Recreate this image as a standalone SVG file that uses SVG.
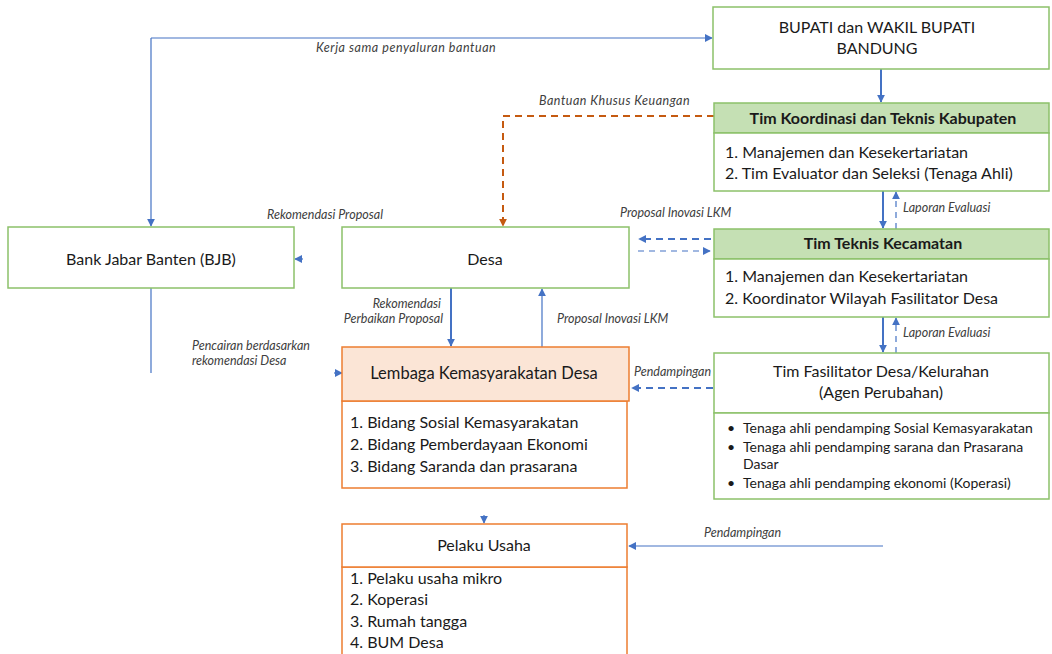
<svg xmlns="http://www.w3.org/2000/svg" width="1052" height="654" viewBox="0 0 1052 654">
<style>
.box{fill:#fff;stroke:#8CC16A;stroke-width:1.5}
.hdr{fill:#C5E0B4;stroke:#8CC16A;stroke-width:1.5}
.obox{fill:#fff;stroke:#ED7D31;stroke-width:1.5}
.ohdr{fill:#FBE5D6;stroke:#ED7D31;stroke-width:1.5}
.t{font-family:Lato,"Liberation Sans",sans-serif;font-size:16px;fill:#1a1a1a}
.tb{font-family:Lato,"Liberation Sans",sans-serif;font-size:16px;font-weight:bold;fill:#1a1a1a}
.ts{font-family:Lato,"Liberation Sans",sans-serif;font-size:14px;fill:#1a1a1a}
.c{text-anchor:middle}
.lbl{font-family:Lato,"Liberation Sans",sans-serif;font-size:12.5px;font-style:italic;fill:#404040}
.ln{fill:none;stroke:#4472C4;stroke-width:1.2}
.lnb{fill:none;stroke:#4472C4;stroke-width:2}
.dsh{fill:none;stroke:#4472C4;stroke-width:2;stroke-dasharray:7 5}
.dsht{fill:none;stroke:#4472C4;stroke-width:1.2;stroke-dasharray:6 5}
.odsh{fill:none;stroke:#C55A11;stroke-width:2;stroke-dasharray:7 5}
</style>
<defs>
<marker id="ab" viewBox="0 0 10 10" refX="9" refY="5" markerWidth="8" markerHeight="8" markerUnits="userSpaceOnUse" orient="auto"><path d="M0,0 L10,5 L0,10 z" fill="#4472C4"/></marker>
<marker id="ao" viewBox="0 0 10 10" refX="9" refY="5" markerWidth="8" markerHeight="8" markerUnits="userSpaceOnUse" orient="auto"><path d="M0,0 L10,5 L0,10 z" fill="#C55A11"/></marker>
</defs>

<g id="connectors">
<path class="ln" d="M151,38 H712" marker-end="url(#ab)"/>
<path class="ln" d="M151,38 V226" marker-end="url(#ab)"/>
<path class="lnb" d="M881,69 V102" marker-end="url(#ab)"/>
<path class="odsh" d="M714,116 H503 V226" marker-end="url(#ao)"/>
<path class="lnb" d="M883,191 V228" marker-end="url(#ab)"/>
<path class="dsht" d="M896,229 V192" marker-end="url(#ab)"/>
<path class="lnb" d="M883,317 V352" marker-end="url(#ab)"/>
<path class="dsht" d="M896,353 V318" marker-end="url(#ab)"/>
<path class="dsh" d="M711,239 H639" marker-end="url(#ab)"/>
<path class="dsht" d="M638,251 H710" marker-end="url(#ab)"/>
<path class="ln" d="M303,259 H295" marker-end="url(#ab)"/>
<path class="ln" d="M151,288 V373"/>
<path class="ln" d="M334,373 H342" marker-end="url(#ab)"/>
<path class="lnb" d="M451,288 V346" marker-end="url(#ab)"/>
<path class="ln" d="M542,347 V289" marker-end="url(#ab)"/>
<path class="dsh" d="M713,388 H632" marker-end="url(#ab)"/>
<path class="ln" d="M484,515 V523" marker-end="url(#ab)"/>
<path class="ln" d="M883,546 H629" marker-end="url(#ab)"/>
<text class="lbl" x="316" y="52" letter-spacing="0.55">Kerja sama penyaluran bantuan</text>
<text class="lbl" x="539" y="105" letter-spacing="0.5">Bantuan Khusus Keuangan</text>
<text class="lbl" x="267" y="219">Rekomendasi Proposal</text>
<text class="lbl" x="620" y="217">Proposal Inovasi LKM</text>
<text class="lbl" x="903" y="212">Laporan Evaluasi</text>
<text class="lbl" x="903" y="337">Laporan Evaluasi</text>
<text class="lbl" x="441" y="308" text-anchor="end">Rekomendasi</text>
<text class="lbl" x="443" y="323" text-anchor="end">Perbaikan Proposal</text>
<text class="lbl" x="557" y="323">Proposal Inovasi LKM</text>
<text class="lbl" x="192" y="350">Pencairan berdasarkan</text>
<text class="lbl" x="192" y="365">rekomendasi Desa</text>
<text class="lbl" x="634" y="376">Pendampingan</text>
<text class="lbl" x="704" y="537">Pendampingan</text>
</g>

<g id="bupati">
<rect class="box" x="713" y="7" width="336" height="62"/>
<text class="t c" x="877" y="33">BUPATI dan WAKIL BUPATI</text>
<text class="t c" x="877" y="54">BANDUNG</text>
</g>

<g id="tim-kabupaten">
<rect class="hdr" x="714" y="103" width="335" height="30"/>
<rect class="box" x="714" y="133" width="335" height="58"/>
<text class="tb c" x="883" y="124">Tim Koordinasi dan Teknis Kabupaten</text>
<text class="t" x="725" y="158">1. Manajemen dan Kesekertariatan</text>
<text class="t" x="725" y="179">2. Tim Evaluator dan Seleksi (Tenaga Ahli)</text>
</g>

<g id="tim-kecamatan">
<rect class="hdr" x="714" y="229" width="335" height="30"/>
<rect class="box" x="714" y="259" width="335" height="58"/>
<text class="tb c" x="883" y="249">Tim Teknis Kecamatan</text>
<text class="t" x="725" y="282">1. Manajemen dan Kesekertariatan</text>
<text class="t" x="725" y="304">2. Koordinator Wilayah Fasilitator Desa</text>
</g>

<g id="tim-fasilitator">
<rect class="box" x="714" y="353" width="335" height="60"/>
<rect class="box" x="714" y="413" width="335" height="86"/>
<text class="t c" x="881" y="377">Tim Fasilitator Desa/Kelurahan</text>
<text class="t c" x="881" y="398">(Agen Perubahan)</text>
<text class="ts" x="727" y="433">•</text>
<text class="ts" x="743" y="433">Tenaga ahli pendamping Sosial Kemasyarakatan</text>
<text class="ts" x="727" y="452">•</text>
<text class="ts" x="743" y="452">Tenaga ahli pendamping sarana dan Prasarana</text>
<text class="ts" x="743" y="469">Dasar</text>
<text class="ts" x="727" y="488">•</text>
<text class="ts" x="743" y="488">Tenaga ahli pendamping ekonomi (Koperasi)</text>
</g>

<g id="bjb">
<rect class="box" x="8" y="227" width="286" height="61"/>
<text class="t c" x="151" y="265">Bank Jabar Banten (BJB)</text>
</g>

<g id="desa">
<rect class="box" x="342" y="227" width="287" height="61"/>
<text class="t c" x="485" y="265">Desa</text>
</g>

<g id="lembaga">
<rect class="obox" x="342" y="401" width="285" height="87"/>
<rect class="ohdr" x="342" y="347" width="287" height="54"/>
<text class="t c" x="484" y="379" style="font-size:16.5px">Lembaga Kemasyarakatan Desa</text>
<text class="t" x="350" y="428">1. Bidang Sosial Kemasyarakatan</text>
<text class="t" x="350" y="450">2. Bidang Pemberdayaan Ekonomi</text>
<text class="t" x="350" y="472">3. Bidang Saranda dan prasarana</text>
</g>

<g id="pelaku-usaha">
<rect class="obox" x="342" y="567" width="285" height="100"/>
<rect class="obox" x="342" y="524" width="285" height="43"/>
<text class="t c" x="484" y="551">Pelaku Usaha</text>
<text class="t" x="350" y="584">1. Pelaku usaha mikro</text>
<text class="t" x="350" y="605">2. Koperasi</text>
<text class="t" x="350" y="627">3. Rumah tangga</text>
<text class="t" x="350" y="648">4. BUM Desa</text>
</g>
</svg>
